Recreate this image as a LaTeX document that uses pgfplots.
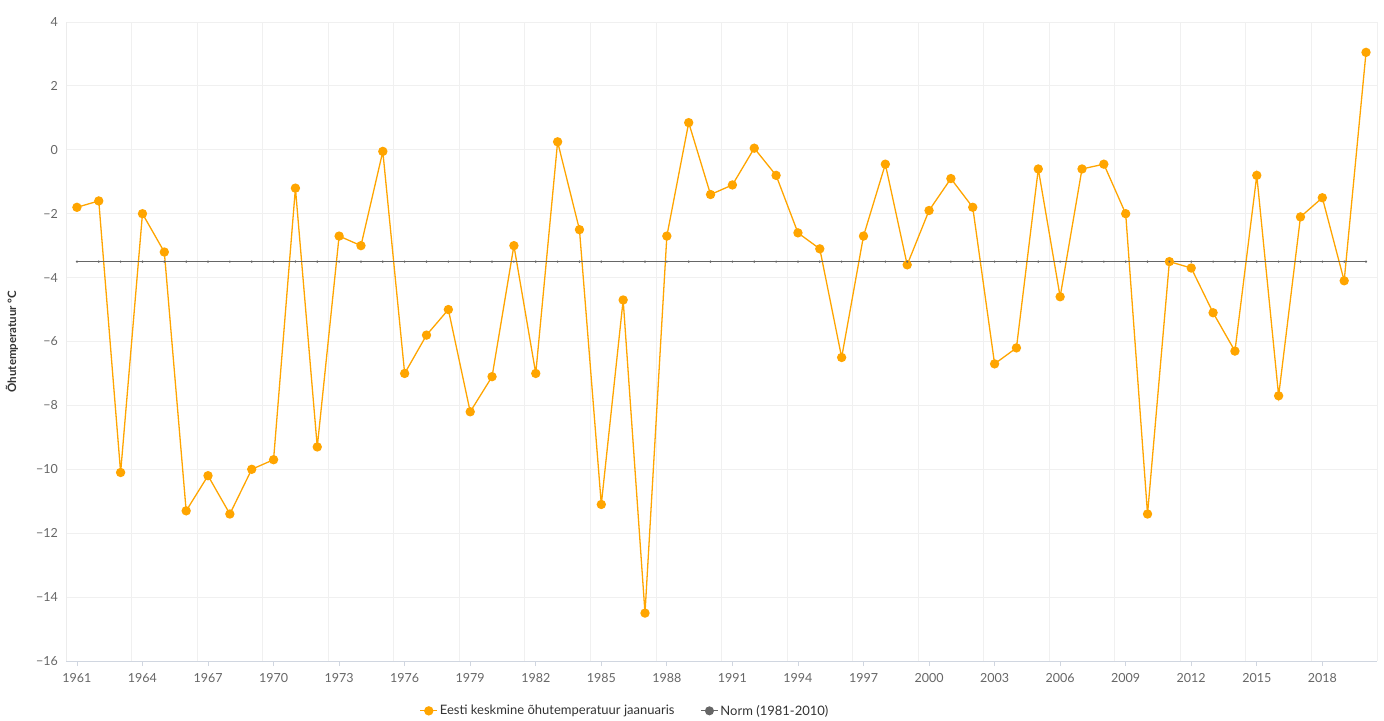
\documentclass[border=0pt]{standalone}
\usepackage{fontspec}
\setmainfont{Lato}
\usepackage{pgfplots}
\pgfplotsset{compat=1.18}
\usepackage{pgfplotstable}
\definecolor{serorange}{HTML}{FFA500}
\definecolor{normgrey}{HTML}{666666}
\definecolor{gridc}{HTML}{F0F0F0}
\definecolor{axisc}{HTML}{D0D6E0}
\definecolor{labc}{HTML}{666666}
\definecolor{txtc}{HTML}{333333}
\pgfplotstableread{
year temp norm
1961 -1.8 -3.5
1962 -1.6 -3.5
1963 -10.1 -3.5
1964 -2.0 -3.5
1965 -3.2 -3.5
1966 -11.3 -3.5
1967 -10.2 -3.5
1968 -11.4 -3.5
1969 -10.0 -3.5
1970 -9.7 -3.5
1971 -1.2 -3.5
1972 -9.3 -3.5
1973 -2.7 -3.5
1974 -3.0 -3.5
1975 -0.05 -3.5
1976 -7.0 -3.5
1977 -5.8 -3.5
1978 -5.0 -3.5
1979 -8.2 -3.5
1980 -7.1 -3.5
1981 -3.0 -3.5
1982 -7.0 -3.5
1983 0.25 -3.5
1984 -2.5 -3.5
1985 -11.1 -3.5
1986 -4.7 -3.5
1987 -14.5 -3.5
1988 -2.7 -3.5
1989 0.85 -3.5
1990 -1.4 -3.5
1991 -1.1 -3.5
1992 0.05 -3.5
1993 -0.8 -3.5
1994 -2.6 -3.5
1995 -3.1 -3.5
1996 -6.5 -3.5
1997 -2.7 -3.5
1998 -0.45 -3.5
1999 -3.6 -3.5
2000 -1.9 -3.5
2001 -0.9 -3.5
2002 -1.8 -3.5
2003 -6.7 -3.5
2004 -6.2 -3.5
2005 -0.6 -3.5
2006 -4.6 -3.5
2007 -0.6 -3.5
2008 -0.45 -3.5
2009 -2.0 -3.5
2010 -11.4 -3.5
2011 -3.5 -3.5
2012 -3.7 -3.5
2013 -5.1 -3.5
2014 -6.3 -3.5
2015 -0.8 -3.5
2016 -7.7 -3.5
2017 -2.1 -3.5
2018 -1.5 -3.5
2019 -4.1 -3.5
2020 3.05 -3.5
}\datatable
\begin{document}
\begin{tikzpicture}
\path (0,0) rectangle (1384bp,718bp);
\begin{axis}[
  at={(66bp,57bp)}, anchor=south west,
  scale only axis, width=1311bp, height=639bp,
  xmin=1960.5, xmax=2020.5, ymin=-16, ymax=4,
  xtick={1961,1964,1967,1970,1973,1976,1979,1982,1985,1988,1991,1994,1997,2000,2003,2006,2009,2012,2015,2018},
  xticklabels={1961,1964,1967,1970,1973,1976,1979,1982,1985,1988,1991,1994,1997,2000,2003,2006,2009,2012,2015,2018},
  ytick={-16,-14,-12,-10,-8,-6,-4,-2,0,2,4},
  yticklabels={−16,−14,−12,−10,−8,−6,−4,−2,0,2,4},
  minor xtick={1960.5,1963.5,...,2020.6},
  xminorgrids=true, ymajorgrids=true,
  grid style={draw=gridc, line width=0.8bp},
  minor grid style={draw=gridc, line width=0.8bp},
  axis x line*=bottom, axis y line*=left,
  x axis line style={draw=axisc, line width=0.8bp},
  y axis line style={draw=gridc!70!gray!40, line width=0.8bp},
  tick align=outside,
  major tick length=5bp, minor tick length=0pt,
  xtick style={draw=axisc, line width=0.8bp},
  ytick style={draw=none},
  xticklabel style={inner sep=0pt, yshift=-7bp, font=\fontsize{12.5bp}{14bp}\selectfont, text=labc},
  yticklabel style={inner sep=0pt, xshift=-3bp, font=\fontsize{12.5bp}{14bp}\selectfont, text=labc},
  ylabel={Õhutemperatuur °C},
  ylabel style={at={(axis description cs:-0.0412,0.5)}, anchor=center, font=\fontsize{11.5bp}{13bp}\selectfont\bfseries, text=txtc},
  legend style={at={(0.4264,-0.078)}, anchor=center, draw=none, fill=none,
    font=\fontsize{13bp}{15bp}\selectfont, text=txtc, legend columns=2,
    /tikz/every even column/.append style={column sep=24bp}},
  legend cell align=left,
]
\addplot[serorange, line width=1.3bp, mark=*, mark size=4bp, mark options={fill=serorange, draw=serorange}] table[x=year, y=temp] {\datatable};
\addlegendentry{Eesti keskmine õhutemperatuur jaanuaris}
\addplot[normgrey, line width=1bp, mark=*, mark size=0.5bp, legend image post style={mark size=4bp}] table[x=year, y=norm] {\datatable};
\addlegendentry{Norm (1981-2010)}
\end{axis}
\end{tikzpicture}
\end{document}
